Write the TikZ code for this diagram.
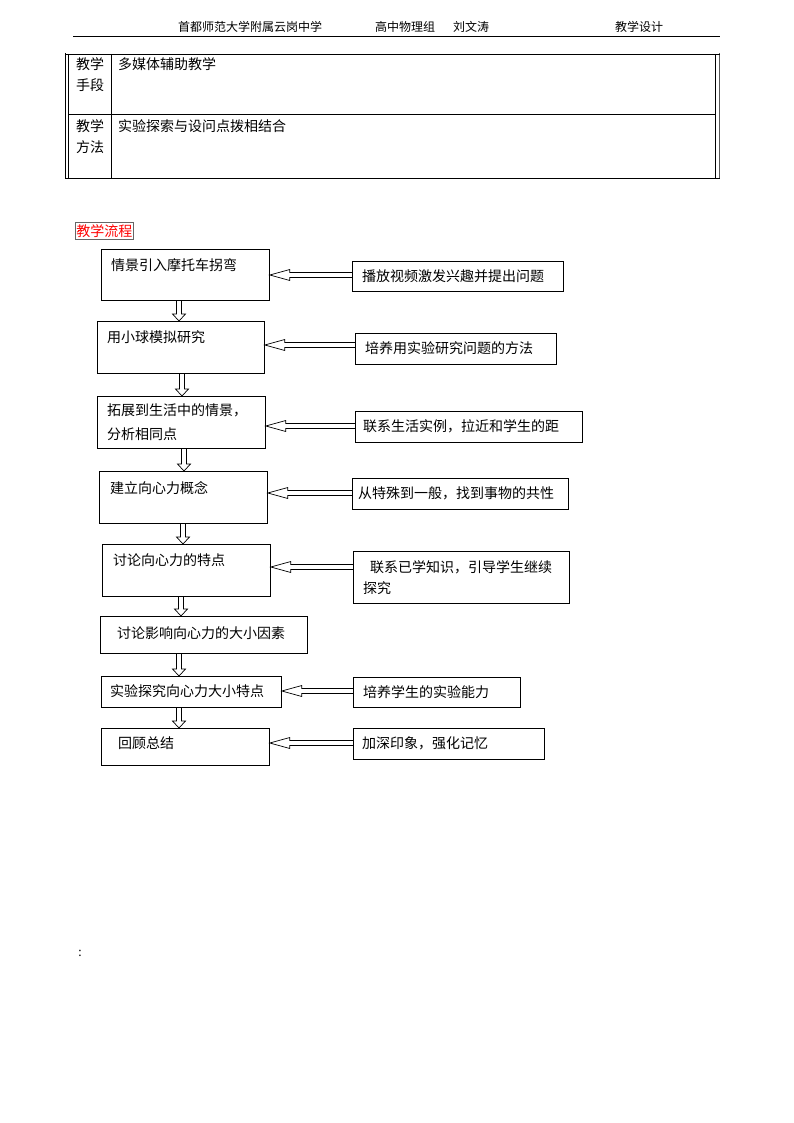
\documentclass[tikz,border=0pt]{standalone}
\usepackage{fontspec}
\setmainfont{Noto Sans CJK SC}
\usetikzlibrary{calc}
\newcommand\harr[3]{\draw[blk] let \p1=(#1.west), \p2=(#2.east) in
  (\x1,{#3-2.5}) -- ({\x2+20pt},{#3-2.5}) -- ({\x2+20pt},{#3-5.5}) -- (\x2,{#3})
  -- ({\x2+20pt},{#3+5.5}) -- ({\x2+20pt},{#3+2.5}) -- (\x1,{#3+2.5});}
\newcommand\varr[3]{\draw[blk] let \p1=(#1.south), \p2=(#2.north) in
  ({#3-2.5},\y1) -- ({#3-2.5},{\y2+7pt}) -- ({#3-6.5},{\y2+7pt}) -- (#3,\y2)
  -- ({#3+6.5},{\y2+7pt}) -- ({#3+2.5},{\y2+7pt}) -- ({#3+2.5},\y1);}
\begin{document}
\begin{tikzpicture}[x=1pt,y=-1pt,
  every node/.style={inner sep=0pt, font=\fontsize{14}{24}\selectfont},
  box/.style={draw, line width=0.8pt, anchor=north west, inner sep=0pt},
  txt/.style={anchor=west, align=left},
  hdr/.style={anchor=west, font=\fontsize{12}{14}\selectfont},
  blk/.style={draw, line width=0.7pt, line join=miter},
  rule/.style={line width=0.8pt}]
\useasboundingbox (0,0) rectangle (794,1123);

% header
\node[hdr] (h1) at (178,27) {首都师范大学附属云岗中学};
\node[hdr] (h2) at (375,27) {高中物理组};
\node[hdr] (h3) at (453,27) {刘文涛};
\node[hdr] (h4) at (615,27) {教学设计};
\draw[rule] (73,36) -- (720,36);

% table
\draw[rule] (65,53) -- (65,178.5);
\draw[rule] (68.5,54) -- (68.5,178);
\draw[rule] (715,54) -- (715,178);
\draw[line width=1.6pt, black!65] (719.5,53) -- (719.5,178.5);
\draw[rule] (65,54) -- (720,54);
\draw[rule] (68.5,114) -- (715,114);
\draw[rule] (65,178) -- (720,178);
\draw[rule] (111.5,54) -- (111.5,178);
\node[txt, font=\fontsize{14}{21}\selectfont] (t1) at (76,74.5) {教学\\手段};
\node[txt] (t2) at (118,64) {多媒体辅助教学};
\node[txt, font=\fontsize{14}{21}\selectfont] (t3) at (76,136.5) {教学\\方法};
\node[txt] (t4) at (118,126) {实验探索与设问点拨相结合};

% title
\node[draw=black!60, line width=0.5pt, text=red, inner xsep=1pt, inner ysep=2pt, anchor=west] (title) at (75,231) {教学流程};

% main boxes
\node[box, minimum width=168, minimum height=51] (m1) at (101,249) {};
\node[box, minimum width=167, minimum height=52] (m2) at (97,321) {};
\node[box, minimum width=168, minimum height=52] (m3) at (97,396) {};
\node[box, minimum width=168, minimum height=52] (m4) at (99,471) {};
\node[box, minimum width=168, minimum height=52] (m5) at (102,544) {};
\node[box, minimum width=207, minimum height=37] (m6) at (100,616) {};
\node[box, minimum width=180, minimum height=31] (m7) at (101,676) {};
\node[box, minimum width=168, minimum height=37] (m8) at (101,728) {};

\node[txt] (mt1) at (111,265) {情景引入摩托车拐弯};
\node[txt] (mt2) at (107,337) {用小球模拟研究};
\node[txt] (mt3) at (107,422) {拓展到生活中的情景，\\分析相同点};
\node[txt] (mt4) at (110,488) {建立向心力概念};
\node[txt] (mt5) at (113,560) {讨论向心力的特点};
\node[txt] (mt6) at (117,633) {讨论影响向心力的大小因素};
\node[txt] (mt7) at (110,691) {实验探究向心力大小特点};
\node[txt] (mt8) at (118,743) {回顾总结};

% right boxes
\node[box, minimum width=211, minimum height=30] (r1) at (352,261) {};
\node[box, minimum width=201, minimum height=31] (r2) at (355,333) {};
\node[box, minimum width=227, minimum height=31] (r3) at (355,411) {};
\node[box, minimum width=216, minimum height=31] (r4) at (352,478) {};
\node[box, minimum width=216, minimum height=52] (r5) at (353,551) {};
\node[box, minimum width=167, minimum height=30] (r6) at (353,677) {};
\node[box, minimum width=191, minimum height=31] (r7) at (353,728) {};

\node[txt] (rt1) at (362,276) {播放视频激发兴趣并提出问题};
\node[txt] (rt2) at (365,348) {培养用实验研究问题的方法};
\node[txt] (rt3) at (363,426) {联系生活实例，拉近和学生的距};
\node[txt] (rt4) at (358,493) {从特殊到一般，找到事物的共性};
\node[txt, font=\fontsize{14}{21}\selectfont] (rt5) at (363,577.5) {\hspace*{7pt}联系已学知识，引导学生继续\\探究};
\node[txt] (rt6) at (363,692) {培养学生的实验能力};
\node[txt] (rt7) at (362,743) {加深印象，强化记忆};

% horizontal arrows
\harr{r1}{m1}{275}
\harr{r2}{m2}{345}
\harr{r3}{m3}{426}
\harr{r4}{m4}{493}
\harr{r5}{m5}{567}
\harr{r6}{m7}{691}
\harr{r7}{m8}{743}

% vertical arrows
\varr{m1}{m2}{179}
\varr{m2}{m3}{182}
\varr{m3}{m4}{184}
\varr{m4}{m5}{183}
\varr{m5}{m6}{181}
\varr{m6}{m7}{179}
\varr{m7}{m8}{179}

\node[font=\fontsize{12}{14}\selectfont] (colon) at (80,953) {:};
\end{tikzpicture}
\end{document}
